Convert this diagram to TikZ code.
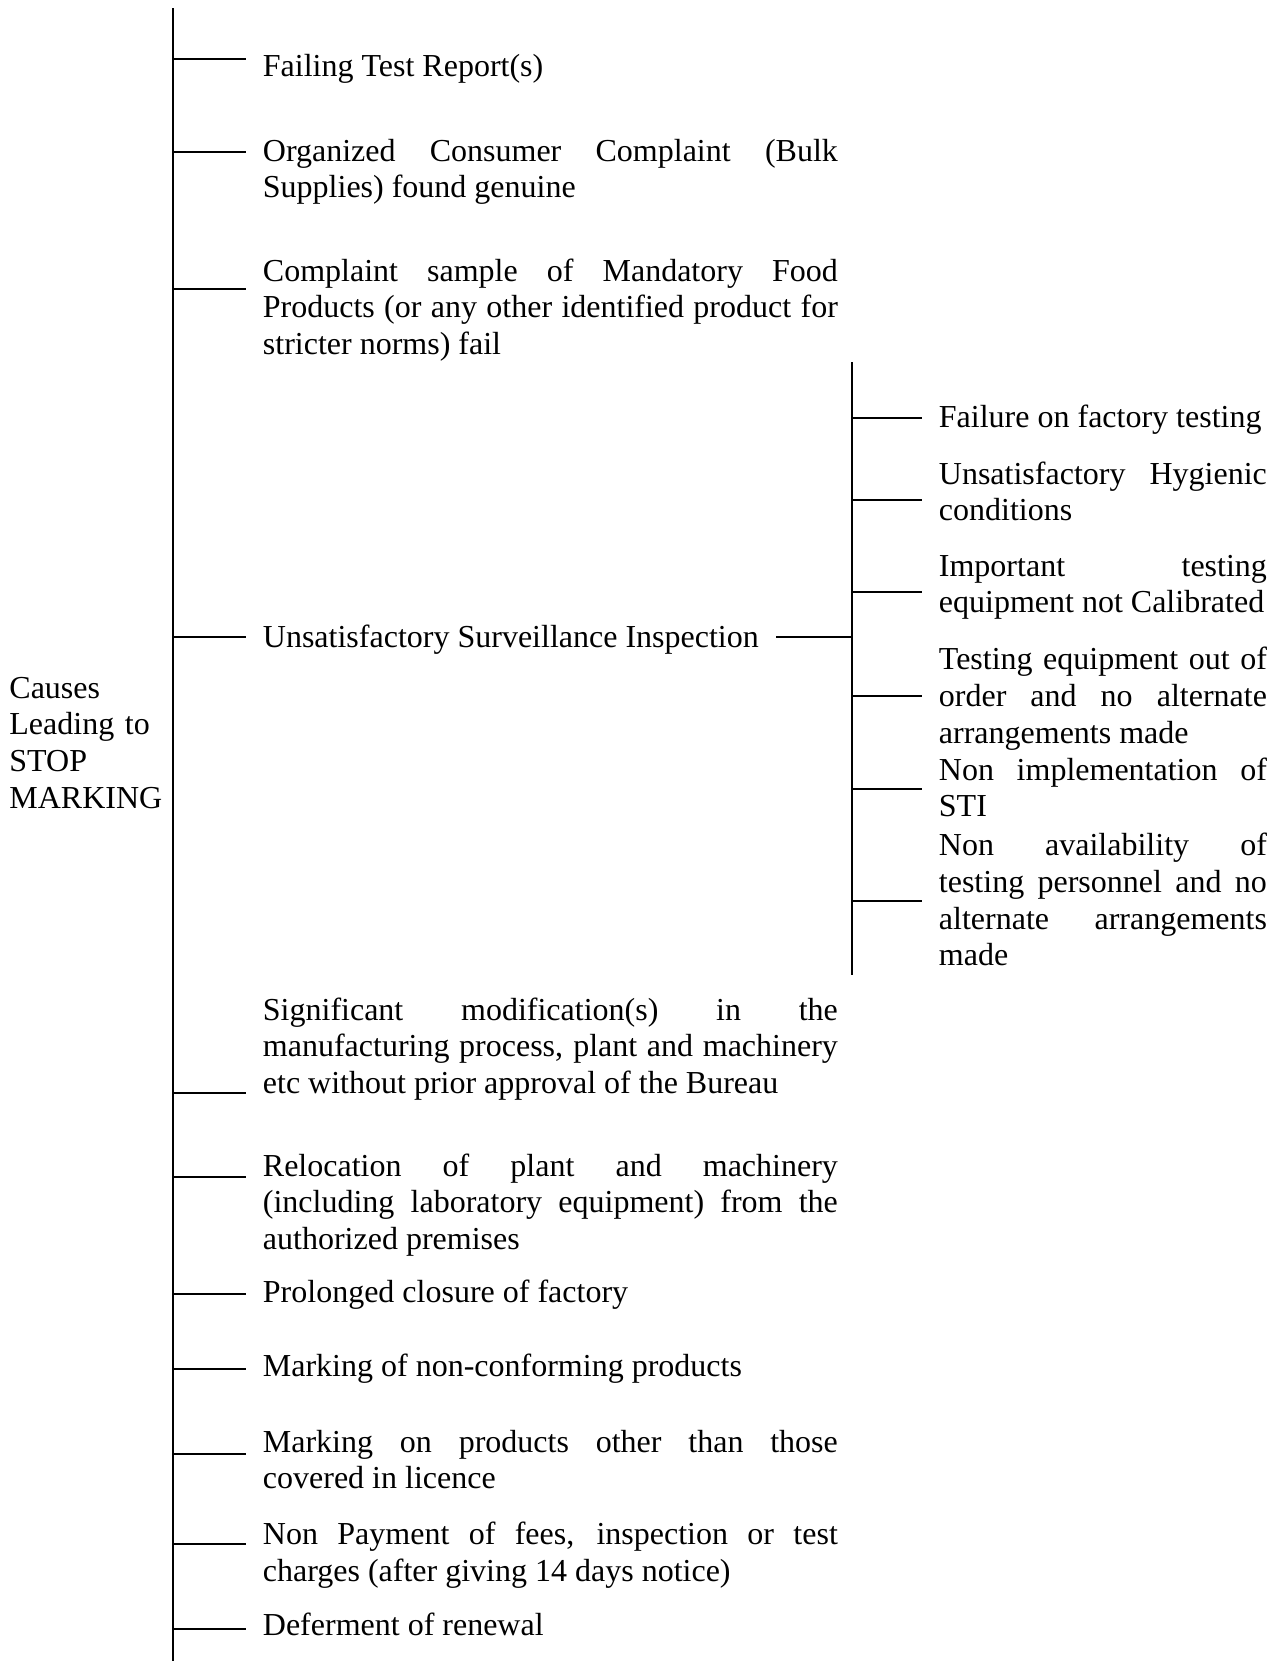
\documentclass[tikz,border=0pt]{standalone}
\usepackage{fontspec}
\setmainfont{Liberation Serif}
\hyphenpenalty=10000
\exhyphenpenalty=10000
\tolerance=10000
\hbadness=10000

\tikzset{
  txt/.style = {anchor=base west, inner sep=0pt, font=\fontsize{12pt}{13.8pt}\selectfont},
  cause/.style = {txt, text width=215.6pt, align=justify},
  subcause/.style = {txt, text width=123pt, align=justify}
}

\begin{document}
\begin{tikzpicture}[x=0.375pt, y=-0.375pt, line width=0.7pt]
    \path[use as bounding box] (0,0) rectangle (1285,1661);
    \coordinate (spine) at (173,8);
    \coordinate (spineEnd) at (173,1661);
    \coordinate (sub) at (852,362);
    \coordinate (subEnd) at (852,975);
    \draw (spine) -- (spineEnd);
    \draw (sub) -- (subEnd);

    \node[txt, text width=60pt, align=left] (stop) at (8.5,698) {Causes\\Leading to\\STOP\\MARKING};

    % main causes
    \node[cause] (fail) at (262,76) {Failing Test Report(s)};
    \node[cause] (bulk) at (262,161) {Organized Consumer Complaint (Bulk\linebreak Supplies) found genuine};
    \node[cause] (mandatory) at (262,281) {Complaint sample of Mandatory Food\linebreak Products (or any other identified product for\linebreak stricter norms) fail};
    \node[txt] (surv) at (262,647.5) {Unsatisfactory Surveillance Inspection};
    \node[cause] (modif) at (262,1020) {Significant modification(s) in the\linebreak manufacturing process, plant and machinery\linebreak etc without prior approval of the Bureau};
    \node[cause] (reloc) at (262,1176) {Relocation of plant and machinery\linebreak (including laboratory equipment) from the\linebreak authorized premises};
    \node[cause] (closure) at (262,1302.5) {Prolonged closure of factory};
    \node[cause] (nonconf) at (262,1376) {Marking of non-conforming products};
    \node[cause] (other) at (262,1452) {Marking on products other than those\linebreak covered in licence};
    \node[cause] (fees) at (262,1544.5) {Non Payment of fees, inspection or test\linebreak charges (after giving 14 days notice)};
    \node[cause] (renewal) at (262,1635.5) {Deferment of renewal};

    \coordinate (tFail) at (246,59);
    \coordinate (tBulk) at (246,151.7);
    \coordinate (tMandatory) at (246,288.7);
    \coordinate (tSurv) at (246,637);
    \coordinate (tModif) at (246,1093);
    \coordinate (tReloc) at (246,1177);
    \coordinate (tClosure) at (246,1294);
    \coordinate (tNonconf) at (246,1369);
    \coordinate (tOther) at (246,1454);
    \coordinate (tFees) at (246,1544);
    \coordinate (tRenewal) at (246,1629);
    \draw (spine |- tFail) -- (tFail);
    \draw (spine |- tBulk) -- (tBulk);
    \draw (spine |- tMandatory) -- (tMandatory);
    \draw (spine |- tSurv) -- (tSurv);
    \draw (spine |- tModif) -- (tModif);
    \draw (spine |- tReloc) -- (tReloc);
    \draw (spine |- tClosure) -- (tClosure);
    \draw (spine |- tNonconf) -- (tNonconf);
    \draw (spine |- tOther) -- (tOther);
    \draw (spine |- tFees) -- (tFees);
    \draw (spine |- tRenewal) -- (tRenewal);

    \coordinate (tSurvOut) at (776,637);
    \draw (tSurvOut) -- (sub |- tSurvOut);

    % surveillance sub causes
    \node[subcause] (factory) at (938,427.5) {Failure on factory testing};
    \node[subcause] (hygiene) at (938,484) {Unsatisfactory Hygienic\linebreak conditions};
    \node[subcause] (calib) at (938,576) {Important testing\linebreak equipment not Calibrated};
    \node[subcause] (outorder) at (938,669.5) {Testing equipment out of\linebreak order and no alternate\linebreak arrangements made};
    \node[subcause] (sti) at (938,780) {Non implementation of\linebreak STI};
    \node[subcause] (personnel) at (938,855.5) {Non availability of\linebreak testing personnel and no\linebreak alternate arrangements\linebreak made};

    \coordinate (tFactory) at (922,417.6);
    \coordinate (tHygiene) at (922,500);
    \coordinate (tCalib) at (922,592);
    \coordinate (tOutorder) at (922,696);
    \coordinate (tSti) at (922,789);
    \coordinate (tPersonnel) at (922,901);
    \draw (sub |- tFactory) -- (tFactory);
    \draw (sub |- tHygiene) -- (tHygiene);
    \draw (sub |- tCalib) -- (tCalib);
    \draw (sub |- tOutorder) -- (tOutorder);
    \draw (sub |- tSti) -- (tSti);
    \draw (sub |- tPersonnel) -- (tPersonnel);
\end{tikzpicture}
\end{document}
